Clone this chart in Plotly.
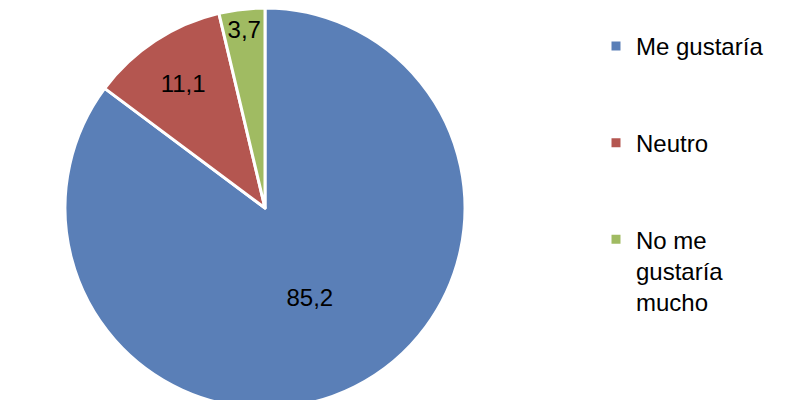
import plotly.graph_objects as go

labels = ["Me gustaría", "Neutro", "No me<br>gustaría<br>mucho"]
values = [85.2, 11.1, 3.7]
colors = ["#5A7FB7", "#B45650", "#A0BB62"]

legend_labels = [
    labels[0] + "<br> <br> ",
    labels[1] + "<br> <br> ",
    labels[2],
]

W, H = 800, 400
cx = 257  # pie centre in figure pixels (page adds an 8px body margin)

fig = go.Figure(
    go.Pie(
        labels=legend_labels,
        values=values,
        sort=False,
        direction="clockwise",
        rotation=0,
        marker=dict(colors=colors, line=dict(color="white", width=3)),
        textinfo="value",
        texttemplate="%{value:.1f}",
        textfont=dict(family="Liberation Sans, Arial, sans-serif", size=24, color="black"),
        insidetextorientation="horizontal",
        textposition="inside",
        domain=dict(x=[(cx - 200) / W, (cx + 200) / W], y=[0, 1]),
        hoverinfo="label+value",
    )
)

fig.update_layout(
    width=W,
    height=H,
    margin=dict(l=0, r=0, t=0, b=0),
    paper_bgcolor="white",
    separators=",.",
    showlegend=True,
    uniformtext=dict(minsize=24, mode="show"),
    legend=dict(
        x=0.735,
        y=0.96,
        xanchor="left",
        yanchor="top",
        valign="top",
        font=dict(family="Liberation Sans, Arial, sans-serif", size=24, color="black"),
        bgcolor="rgba(0,0,0,0)",
    ),
)

fig.write_html("out.html")
